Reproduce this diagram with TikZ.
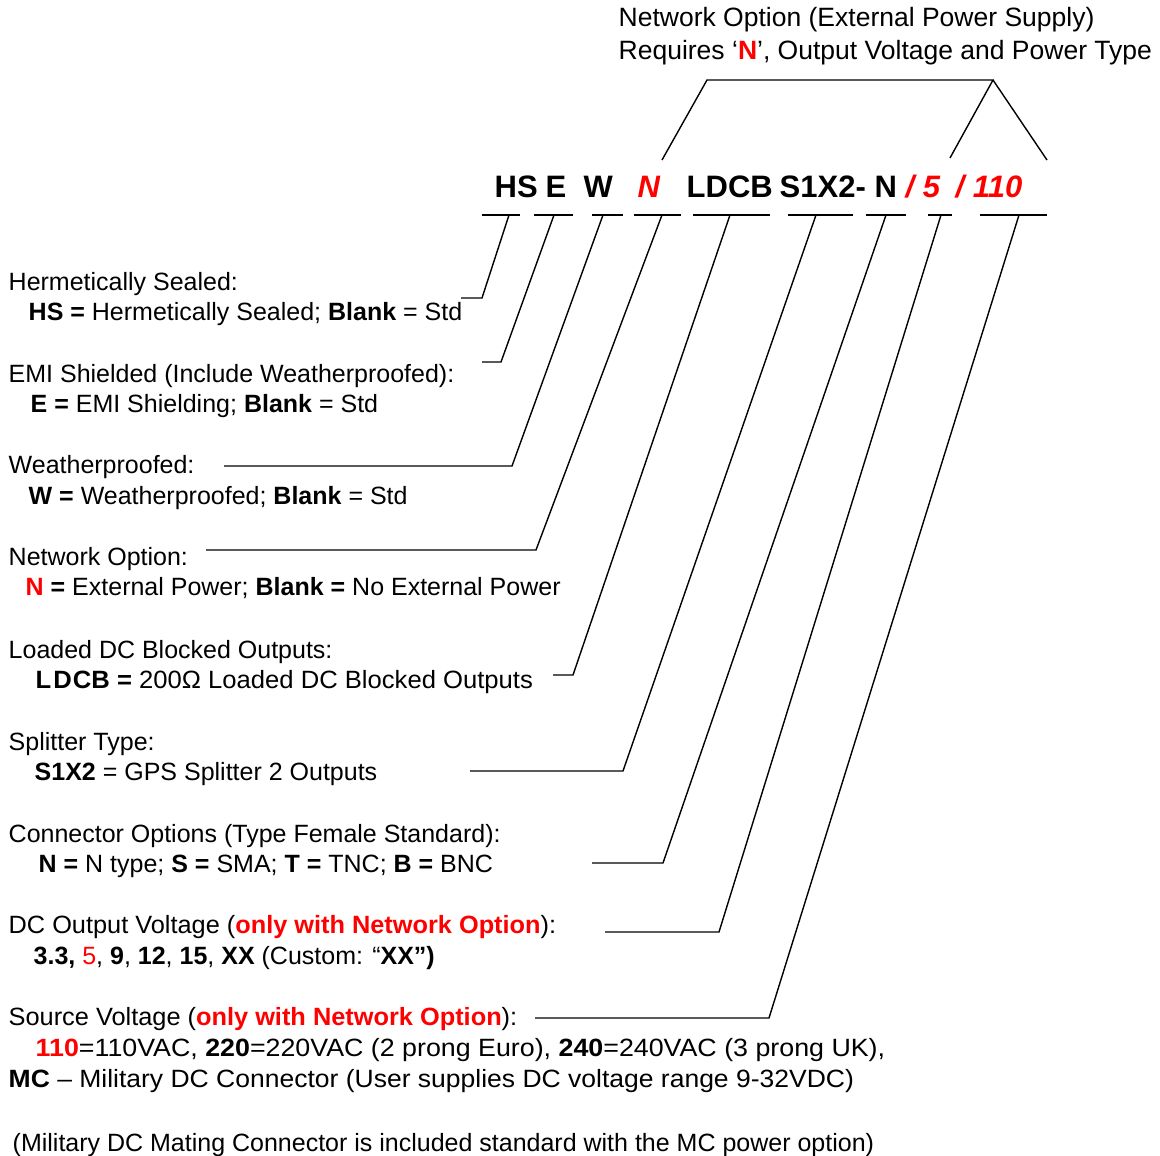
\documentclass[tikz,border=0pt]{standalone}
\usepackage{fontspec}
\setmainfont{Liberation Sans}
\usetikzlibrary{positioning, calc}

\begin{document}
\begin{tikzpicture}[x=1pt,y=-1pt,line width=1.4pt,
    desc/.style={anchor=base west,inner sep=0pt,font=\fontsize{25}{30}\selectfont},
    head/.style={anchor=base west,inner sep=0pt,font=\fontsize{26.5}{32}\selectfont},
    code/.style={anchor=base west,inner sep=0pt,font=\fontsize{31}{36}\selectfont\bfseries},
    opt/.style={code,text=red,font=\fontsize{31}{36}\selectfont\bfseries\itshape},
    uline/.style={inner sep=0pt,minimum height=0pt,outer sep=0pt}]
    \useasboundingbox (0,0) rectangle (1160,1156);

    % heading above the code
    \node[head] (net1) at (618,27) {Network Option (External Power Supply)};
    \node[head] (net2) at (618,60) {Requires ‘\textcolor{red}{\textbf{N}}’, Output Voltage and Power Type};

    % part number
    \node[code] (cHS) at (494,197) {HS};
    \node[code] (cE) at (545,197) {E};
    \node[code] (cW) at (583,197) {W};
    \node[opt] (cN) at (637,197) {N};
    \node[code] (cLDCB) at (686,197) {LDCB};
    \node[code] (cS) at (779,197) {S1X2-};
    \node[code] (cCon) at (874,197) {N};
    \node[opt] (cV) at (905,197) {/ 5};
    \node[opt] (cSrc) at (955,197) {/ 110};

    % underlines
    \node[uline,minimum width=38] (lHS) at (501,215) {};
    \node[uline,minimum width=39] (lE) at (553.5,215) {};
    \node[uline,minimum width=31] (lW) at (607.5,215) {};
    \node[uline,minimum width=47] (lN) at (657.5,215) {};
    \node[uline,minimum width=77] (lLDCB) at (731.5,215) {};
    \node[uline,minimum width=65] (lS) at (820.5,215) {};
    \node[uline,minimum width=40] (lCon) at (886,215) {};
    \node[uline,minimum width=24] (lV) at (940,215) {};
    \node[uline,minimum width=67] (lSrc) at (1013.5,215) {};
    \foreach \u in {lHS,lE,lW,lN,lLDCB,lS,lCon,lV,lSrc}
        \draw (\u.west) -- (\u.east);

    % bracket for the network option
    \coordinate (bL) at (662,160);
    \coordinate (bTL) at (707,80);
    \coordinate (bTR) at (993,80);
    \coordinate (bR1) at (950,158);
    \coordinate (bR2) at (1047,160);
    \draw (bL) -- (bTL) -- (bTR) -- (bR1);
    \draw (bTR) -- (bR2);

    % descriptions
    \node[desc] (dHS1) at (8,290) {Hermetically Sealed:};
    \node[desc] (dHS2) at (28,320) {\textbf{HS =} Hermetically Sealed; \textbf{Blank} = Std};
    \node[desc] (dE1) at (8,382) {EMI Shielded (Include Weatherproofed):};
    \node[desc] (dE2) at (30,412) {\textbf{E =} EMI Shielding; \textbf{Blank} = Std};
    \node[desc] (dW1) at (8,473) {Weatherproofed:};
    \node[desc] (dW2) at (28,504) {\textbf{W =} Weatherproofed; \textbf{Blank} = Std};
    \node[desc] (dN1) at (8,565) {Network Option:};
    \node[desc] (dN2) at (25,595) {\textbf{\textcolor{red}{N} =} External Power; \textbf{Blank =} No External Power};
    \node[desc] (dL1) at (8,658) {Loaded DC Blocked Outputs:};
    \node[desc] (dL2) at (35,688) {\scalebox{1.025}[1]{\textbf{L\kern2pt D\kern1pt CB =} 200Ω Loaded DC Blocked Outputs}};
    \node[desc] (dS1) at (8,750) {Splitter Type:};
    \node[desc] (dS2) at (34,780) {\textbf{S1X2} = GPS Splitter 2 Outputs};
    \node[desc] (dC1) at (8,842) {Connector Options (Type Female Standard):};
    \node[desc] (dC2) at (38,872) {\textbf{N =} N type; \textbf{S =} SMA; \textbf{T =} TNC; \textbf{B =} BNC};
    \node[desc] (dV1) at (8,933) {\scalebox{1.013}[1]{DC Output Voltage (\textcolor{red}{\textbf{only with Network Option}}):}};
    \node[desc] (dV2) at (33,964) {\textbf{3.3,} \textcolor{red}{5}, \textbf{9}, \textbf{12}, \textbf{15}, \textbf{XX} (Custom: “\textbf{XX”)}};
    \node[desc] (dP1) at (8,1025) {\scalebox{1.014}[1]{Source Voltage (\textcolor{red}{\textbf{only with Network Option}}):}};
    \node[desc] (dP2) at (35,1056) {\scalebox{1.072}[1]{\textcolor{red}{\textbf{110}}=110VAC, \textbf{220}=220VAC (2 prong Euro), \textbf{240}=240VAC (3 prong UK),}};
    \node[desc] (dP3) at (8,1087) {\scalebox{1.06}[1]{\textbf{MC} – Military DC Connector (User supplies DC voltage range 9-32VDC)}};
    \node[desc] (dM) at (12,1151) {(Military DC Mating Connector is included standard with the MC power option)};

    % leaders from the code to the descriptions
    \coordinate (tHS) at (509,215);   \coordinate (kHS) at (482,298);   \coordinate (eHS) at (461,298);
    \coordinate (tE) at (554,215);    \coordinate (kE) at (501,362);    \coordinate (eE) at (482,362);
    \coordinate (tW) at (603,215);    \coordinate (kW) at (512,466);    \coordinate (eW) at (224,466);
    \coordinate (tN) at (662,215);    \coordinate (kN) at (536,550);    \coordinate (eN) at (206,550);
    \coordinate (tL) at (730,215);    \coordinate (kL) at (573,675);    \coordinate (eL) at (553,675);
    \coordinate (tS) at (816,215);    \coordinate (kS) at (623,771);    \coordinate (eS) at (470,771);
    \coordinate (tC) at (886,215);    \coordinate (kC) at (663,863);    \coordinate (eC) at (592,863);
    \coordinate (tV) at (941,215);    \coordinate (kV) at (719,932);    \coordinate (eV) at (605,932);
    \coordinate (tP) at (1019,215);   \coordinate (kP) at (769,1018);   \coordinate (eP) at (535,1018);
    \draw (tHS) -- (kHS) -- (eHS);
    \draw (tE) -- (kE) -- (eE);
    \draw (tW) -- (kW) -- (eW);
    \draw (tN) -- (kN) -- (eN);
    \draw (tL) -- (kL) -- (eL);
    \draw (tS) -- (kS) -- (eS);
    \draw (tC) -- (kC) -- (eC);
    \draw (tV) -- (kV) -- (eV);
    \draw (tP) -- (kP) -- (eP);
\end{tikzpicture}
\end{document}
